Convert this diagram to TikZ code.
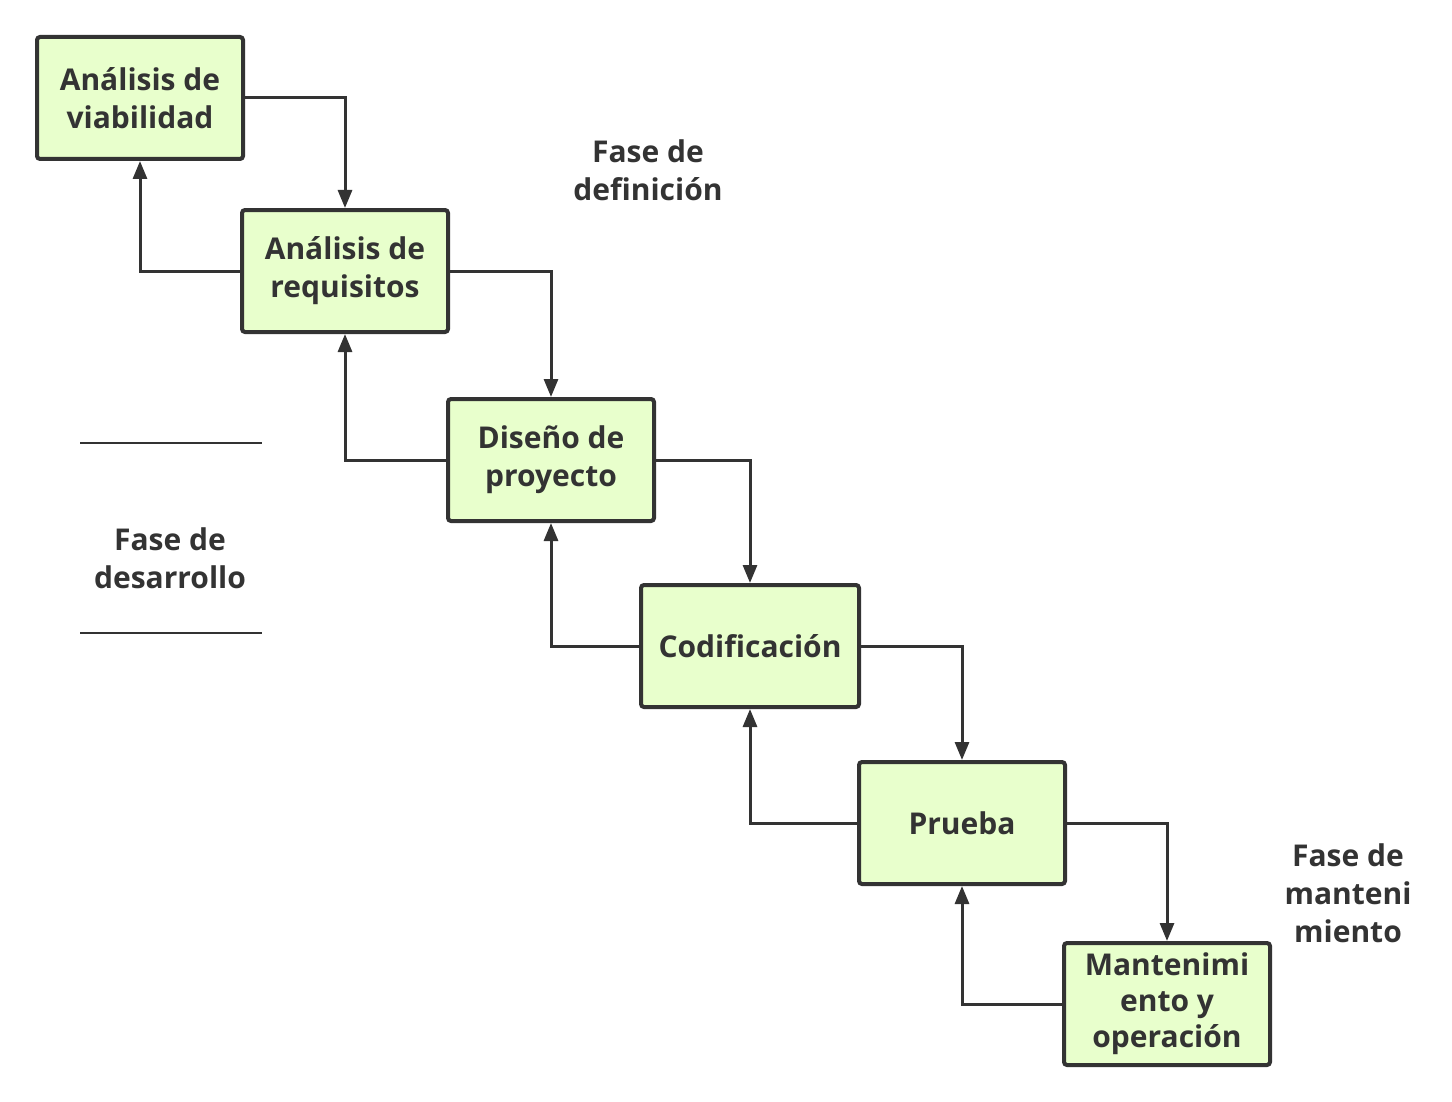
\documentclass[tikz,border=0pt]{standalone}
\usepackage{fontspec}
\setmainfont{Open Sans}
\usetikzlibrary{arrows.meta}
\definecolor{ink}{HTML}{333333}
\definecolor{boxfill}{HTML}{E8FFCC}
\begin{document}
\begin{tikzpicture}[x=0.5pt,y=-0.5pt,
  box/.style={draw=ink,fill=boxfill,line width=2pt,rounded corners=1.5pt,minimum width=103pt,minimum height=61pt,inner sep=2pt,align=center,text=ink,font=\fontsize{15}{19}\selectfont\bfseries},
  lbl/.style={align=center,text=ink,font=\fontsize{15}{19}\selectfont\bfseries},
  con/.style={draw=ink,line width=1.5pt,-{Triangle[length=9pt,width=7pt]}}]
\useasboundingbox (0,0) rectangle (1452,1102);
\node[box] (b1) at (140,98) {Análisis de\\viabilidad};
\node[box] (b2) at (345,271) {Análisis de\\requisitos};
\node[box] (b3) at (551,460) {Diseño de\\proyecto};
\node[box,minimum width=109pt] (b4) at (750,646) {Codificación};
\node[box] (b5) at (962,823) {Prueba};
\node[box,font=\fontsize{15}{18}\selectfont\bfseries] (b6) at (1167,1004) {Mantenimi\\ento y\\operación};
\foreach \a/\b in {b1/b2,b2/b3,b3/b4,b4/b5,b5/b6}{
  \draw[con] (\a.east) -| (\b.north);
  \draw[con] (\b.west) -| (\a.south);
}
\node[lbl] (t1) at (648,170) {Fase de\\definición};
\node[lbl] (t2) at (170,558) {Fase de\\desarrollo};
\node[lbl] (t3) at (1348,893) {Fase de\\manteni\\miento};
\coordinate (l1a) at (80,443); \coordinate (l1b) at (262,443);
\coordinate (l2a) at (80,633); \coordinate (l2b) at (262,633);
\draw[ink,line width=1.2pt] (l1a) -- (l1b);
\draw[ink,line width=1.2pt] (l2a) -- (l2b);
\end{tikzpicture}
\end{document}
